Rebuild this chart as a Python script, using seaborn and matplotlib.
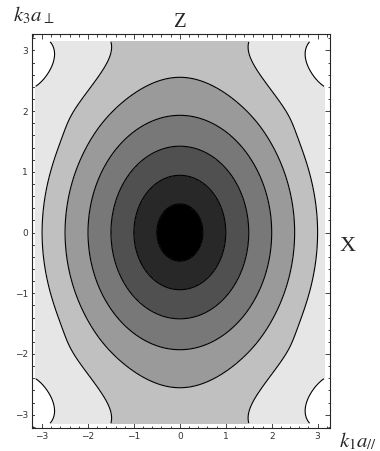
import matplotlib
matplotlib.use("Agg")
import matplotlib.pyplot as plt
import numpy as np
import seaborn as sns

# contour levels and region shades
levels = [0.5, 1.0, 1.5, 2.0, 2.5, 3.0, 3.5]
shades = ["#000000", "#282828", "#505050", "#787878",
          "#9a9a9a", "#c0c0c0", "#e6e6e6", "#ffffff"]
ticks = [-3, -2, -1, 0, 1, 2, 3]

# surface fitted to the contour crossings:
# w^2 = (1 - p(k3)) k1^2 - r(k3) k1^6 + b(k3)
k3_scale = 1.13
k3_sat = 0.0036
p_max = 0.207
r_max = 0.0026
r_mid = 1.8
r_width = 0.3

sns.set_style("ticks")
plt.rcParams["mathtext.fontset"] = "stix"

k = np.linspace(-np.pi, np.pi, 401)
K1, K3 = np.meshgrid(k, k)
s = np.abs(K3) / np.pi
p = p_max * s**3
r = r_max * 0.5 * (1 + np.tanh((np.abs(K3) - r_mid) / r_width))
b = k3_scale * K3**2 * (1 - k3_sat * K3**4)
w = np.sqrt((1 - p) * K1**2 - r * K1**6 + b)

fig = plt.figure(figsize=(3.8, 4.51), dpi=100)
ax = fig.add_axes([32 / 380, 1 - 428 / 451, 298 / 380, 394 / 451])

ax.contourf(K1, K3, w, levels=[-1] + levels + [w.max() + 1], colors=shades)
ax.contour(K1, K3, w, levels=levels, colors="black", linewidths=0.8)

ax.set_xlim(-3.22, 3.27)
ax.set_ylim(-3.22, 3.27)
ax.set_xticks(ticks)
ax.set_yticks(ticks)
ax.set_xticks(np.arange(-3.2, 3.21, 0.2), minor=True)
ax.set_yticks(np.arange(-3.2, 3.21, 0.2), minor=True)
ax.tick_params(which="both", direction="in", top=True, right=True,
               width=0.6, labelsize=6.5, labelcolor="#333333", pad=3)
ax.tick_params(which="major", length=3.5)
ax.tick_params(which="minor", length=1.8)
for sp in ax.spines.values():
    sp.set_linewidth(0.8)

serif = ["Liberation Serif", "DejaVu Serif"]
fig.text(13 / 380, 1 - 21 / 451, r"$k_3a_\perp$", fontsize=15, family=serif,
         ha="left", va="baseline")
fig.text(180 / 380, 1 - 27 / 451, "Z", fontsize=15, family=serif,
         ha="center", va="baseline")
fig.text(348 / 380, 1 - 251 / 451, "X", fontsize=16, family=serif,
         ha="center", va="baseline")
fig.text(339 / 380, 1 - 447 / 451, r"$k_1a_{//}$", fontsize=15, family=serif,
         ha="left", va="baseline")

fig.savefig("out.png", dpi=100, facecolor="white")
